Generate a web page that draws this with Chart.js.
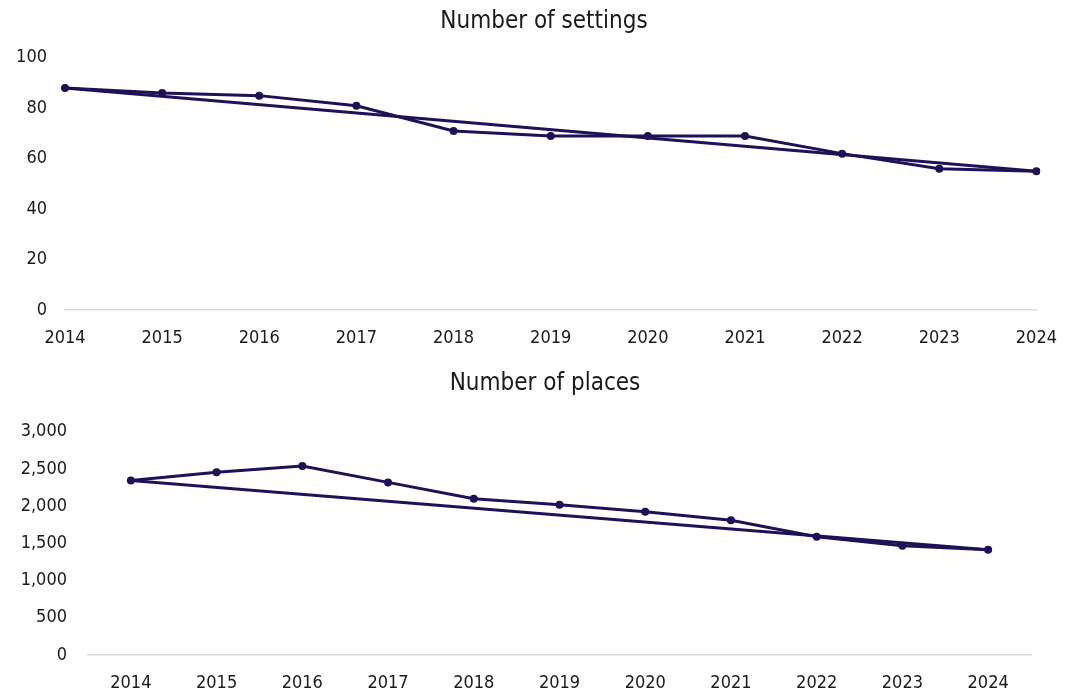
<!DOCTYPE html>
<html>
<head>
<meta charset="utf-8">
<script src="https://cdn.jsdelivr.net/npm/chart.js@4/dist/chart.umd.min.js"></script>
<style>
  html, body { margin: 0; padding: 0; background: #ffffff; }
  body { width: 1075px; height: 692px; position: relative; overflow: hidden; }
  .panel { position: absolute; left: 0; width: 1075px; }
  #settingsWrap { top: 0; height: 350px; }
  #placesWrap { top: 355px; height: 337px; }
</style>
</head>
<body>
<div class="panel" id="settingsWrap"><canvas id="settingsChart"></canvas></div>
<div class="panel" id="placesWrap"><canvas id="placesChart"></canvas></div>
<script>
// Years shown on both panels
const years = ['2014', '2015', '2016', '2017', '2018', '2019', '2020', '2021', '2022', '2023', '2024'];

// Number of settings per year
const settingsValues = [88, 86, 85, 81, 71, 69, 69, 69, 62, 56, 55];

// Number of places per year
const placesValues = [2345, 2455, 2540, 2320, 2100, 2020, 1925, 1810, 1590, 1470, 1415];

// Value-axis tick settings
const settingsTickMax = 100;
const settingsTickStep = 20;
const placesTickMax = 3000;
const placesTickStep = 500;

const LINE_COLOR = '#1b1257';
const TEXT_COLOR = '#1a1a1a';

// Prefer the condensed face; fall back to the regular one at a smaller size
function hasFont(name) {
  const ctx = document.createElement('canvas').getContext('2d');
  ctx.font = '40px monospace';
  const a = ctx.measureText('2014 Number of places').width;
  ctx.font = `40px "${name}", monospace`;
  const b = ctx.measureText('2014 Number of places').width;
  return a !== b;
}
const condensed = hasFont('DejaVu Sans Condensed');
const FONT = condensed ? "'DejaVu Sans Condensed', 'DejaVu Sans', sans-serif" : "'DejaVu Sans', sans-serif";
const TICK_SIZE = condensed ? 18 : 16;
const TITLE_SIZE = condensed ? 24 : 22;

// Straight line joining the first and last year
function endToEnd(values) {
  return values.map((v, i) => (i === 0 || i === values.length - 1) ? v : null);
}

// Centre the title on a chosen x position rather than on the canvas
const titleCentre = {
  id: 'titleCentre',
  afterLayout(chart, args, opts) {
    const t = chart.titleBlock;
    if (!t || opts.x == null) return;
    const half = 400;
    t.left = opts.x - half;
    t.right = opts.x + half;
    t.width = 2 * half;
  }
};

function makeChart(canvasId, opts) {
  return new Chart(document.getElementById(canvasId), {
    type: 'line',
    data: {
      labels: years,
      datasets: [
        {
          data: opts.values,
          borderColor: LINE_COLOR,
          backgroundColor: LINE_COLOR,
          borderWidth: 3,
          pointRadius: 4,
          pointHoverRadius: 4,
          pointBackgroundColor: LINE_COLOR,
          pointBorderWidth: 0,
          tension: 0
        },
        {
          data: endToEnd(opts.values),
          borderColor: LINE_COLOR,
          borderWidth: 3,
          pointRadius: 0,
          spanGaps: true,
          tension: 0
        }
      ]
    },
    plugins: [titleCentre],
    options: {
      responsive: true,
      maintainAspectRatio: false,
      animation: false,
      layout: { padding: opts.layoutPadding },
      plugins: {
        legend: { display: false },
        tooltip: { enabled: false },
        titleCentre: { x: opts.titleX },
        title: {
          display: true,
          text: opts.title,
          color: TEXT_COLOR,
          font: { family: FONT, size: TITLE_SIZE, weight: 'normal', lineHeight: 1.2 },
          padding: opts.titlePadding
        }
      },
      scales: {
        x: {
          offset: opts.offset,
          grid: { display: false, drawTicks: false },
          border: { display: true, color: '#d9d9d9', width: 1.5 },
          afterFit: (scale) => { scale.height = opts.axisHeight; },
          ticks: {
            color: TEXT_COLOR,
            font: { family: FONT, size: TICK_SIZE },
            padding: 18,
            maxRotation: 0,
            autoSkip: false
          }
        },
        y: {
          min: 0,
          max: opts.tickMax,
          grid: { display: false, drawTicks: false },
          border: { display: false },
          afterFit: (scale) => { scale.width = opts.axisWidth; },
          ticks: {
            stepSize: opts.tickStep,
            color: TEXT_COLOR,
            font: { family: FONT, size: TICK_SIZE },
            padding: opts.tickPad,
            callback: (v) => Number(v).toLocaleString('en-US')
          }
        }
      }
    }
  });
}

makeChart('settingsChart', {
  title: 'Number of settings',
  titleX: 544,
  values: settingsValues,
  tickMax: settingsTickMax,
  tickStep: settingsTickStep,
  offset: false,
  axisWidth: 65,
  axisHeight: 40,
  tickPad: 18,
  titlePadding: { top: 7, bottom: 22 },
  layoutPadding: { left: 0, right: 9, top: 0, bottom: 0 }
});

makeChart('placesChart', {
  title: 'Number of places',
  titleX: 545,
  values: placesValues,
  tickMax: placesTickMax,
  tickStep: placesTickStep,
  offset: true,
  axisWidth: 88,
  axisHeight: 37,
  tickPad: 21,
  titlePadding: { top: 14, bottom: 34 },
  layoutPadding: { left: 0, right: 44, top: 0, bottom: 0 }
});
</script>
</body>
</html>
